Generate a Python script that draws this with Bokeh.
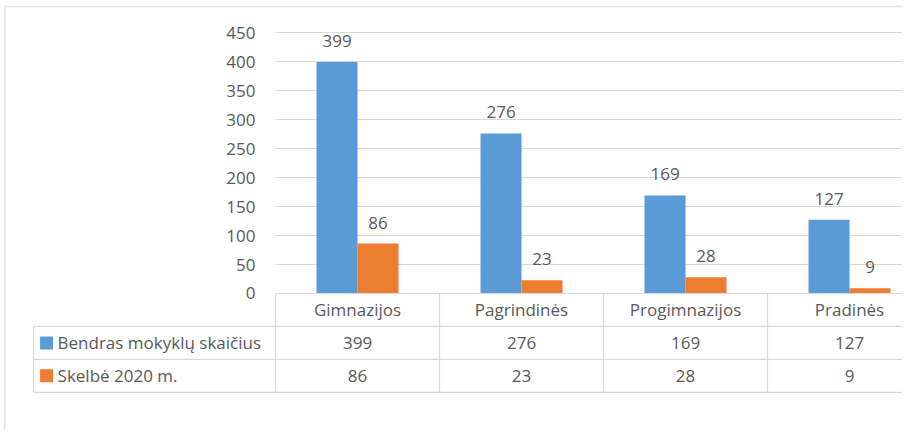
import numpy as np
from bokeh.plotting import figure
from bokeh.models import Range1d, ColumnDataSource
from bokeh.core.properties import value
from bokeh.embed import file_html
from bokeh.resources import INLINE

categories = ["Gimnazijos", "Pagrindinės", "Progimnazijos", "Pradinės"]
series_names = ["Bendras mokyklų skaičius", "Skelbė 2020 m."]
total = [399, 276, 169, 127]
announced = [86, 23, 28, 9]
y_ticks = [0, 50, 100, 150, 200, 250, 300, 350, 400, 450]

BLUE = "#5B9BD5"
ORANGE = "#ED7D31"
TXT = "#595959"
GRID = "#D9D9D9"
FONT = value("Open Sans")
FS = "17px"

W, H = 902, 429
# x: one unit per category; y: data units
x0, x1 = -1.677, 3.823
y0, y1 = -234.5, 505.2
p = figure(width=W, height=H, output_backend="svg", toolbar_location=None,
           x_range=Range1d(x0, x1), y_range=Range1d(y0, y1),
           x_axis_type=None, y_axis_type=None, min_border=0,
           background_fill_color="white", border_fill_color="white")
p.outline_line_color = None

n = len(categories)
idx = np.arange(n)

# chart area border (left and top)
bx, by = -1.652, 494.8
p.segment(x0=[bx, bx], x1=[bx, x1], y0=[y0, by], y1=[by, by], line_color="#E3E3E3", line_width=1.5)

# gridlines
gt = [t for t in y_ticks if t > 0]
p.segment(x0=[0] * len(gt), x1=[x1] * len(gt), y0=gt, y1=gt, line_color=GRID, line_width=1)

# y tick labels
p.text(x=[0] * len(y_ticks), y=y_ticks, text=[str(t) for t in y_ticks], x_offset=-20,
       text_align="right", text_baseline="middle", text_font=FONT, text_font_size=FS,
       text_color=TXT)

# bars
bw = 0.25
src = ColumnDataSource(dict(xb=idx + 0.375, xo=idx + 0.625, total=total, ann=announced,
                            tl=[str(v) for v in total], al=[str(v) for v in announced]))
p.vbar(x="xb", top="total", bottom=0, width=bw, source=src, fill_color=BLUE, line_color=None)
p.vbar(x="xo", top="ann", bottom=0, width=bw, source=src, fill_color=ORANGE, line_color=None)
p.text(x="xb", y="total", text="tl", source=src, y_offset=-21, text_align="center",
       text_baseline="middle", text_font=FONT, text_font_size=FS, text_color=TXT)
p.text(x="xo", y="ann", text="al", source=src, y_offset=-21, text_align="center",
       text_baseline="middle", text_font=FONT, text_font_size=FS, text_color=TXT)

# data table
row_h = 56.8
leg_left = -1.476
rows = np.arange(4)  # boundaries 0..3
bounds_y = -row_h * rows
# header top line
p.segment(x0=[0], x1=[x1], y0=[0], y1=[0], line_color=GRID, line_width=1.2)
# lower lines extend under legend
p.segment(x0=[leg_left] * 3, x1=[x1] * 3, y0=bounds_y[1:], y1=bounds_y[1:],
          line_color=GRID, line_width=1.2)
# vertical lines at category boundaries
vb = np.arange(n + 1)
p.segment(x0=vb, x1=vb, y0=[0] * len(vb), y1=[bounds_y[-1]] * len(vb),
          line_color=GRID, line_width=1.2)
p.segment(x0=[leg_left], x1=[leg_left], y0=[bounds_y[1]], y1=[bounds_y[-1]],
          line_color=GRID, line_width=1.2)

# header labels
p.text(x=idx + 0.5, y=[-row_h * 0.5] * n, text=categories, text_align="center",
       text_baseline="middle", text_font=FONT, text_font_size=FS, text_color=TXT)
# values
p.text(x=idx + 0.5, y=[-row_h * 1.5] * n, text=[str(v) for v in total], text_align="center",
       text_baseline="middle", text_font=FONT, text_font_size=FS, text_color=TXT)
p.text(x=idx + 0.5, y=[-row_h * 2.5] * n, text=[str(v) for v in announced], text_align="center",
       text_baseline="middle", text_font=FONT, text_font_size=FS, text_color=TXT)

# legend keys
ly = [-row_h * 1.5, -row_h * 2.5]
p.scatter(x=[-1.396] * 2, y=ly, marker="square", size=13, fill_color=[BLUE, ORANGE], line_color=None)
p.text(x=[-1.329] * 2, y=ly, text=series_names, text_align="left", text_baseline="middle",
       text_font=FONT, text_font_size=FS, text_color=TXT)

open("out.html", "w").write(file_html(p, INLINE))
